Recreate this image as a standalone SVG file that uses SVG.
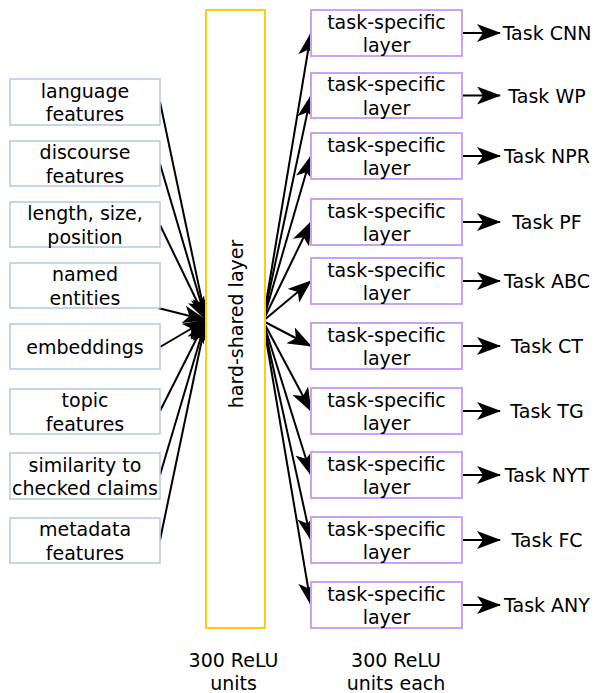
<svg xmlns="http://www.w3.org/2000/svg" width="596" height="693" viewBox="0 0 596 693">
<style>
text{font-family:"DejaVu Sans","Liberation Sans",sans-serif;font-size:19px;fill:#000;text-anchor:middle}
.in{fill:#fff;stroke:#B9CBE5;stroke-width:1.6}
.ts{fill:#fff;stroke:#C9A2F0;stroke-width:2}
.hs{fill:#fff;stroke:#FFCC11;stroke-width:2}
.c{stroke:#000;stroke-width:2;fill:none;marker-end:url(#ah)}
</style>
<defs>
<marker id="ah" markerUnits="userSpaceOnUse" markerWidth="24" markerHeight="18" viewBox="0 0 24 18" refX="23" refY="9" orient="auto">
<path d="M0,0 L24,9 L0,18 L6,9 Z" fill="#000"/>
</marker>
</defs>
<g id="connectors">
<line class="c" x1="160" y1="102" x2="206" y2="320"/>
<line class="c" x1="160" y1="164" x2="206" y2="320"/>
<line class="c" x1="160" y1="225" x2="206" y2="320"/>
<line class="c" x1="158" y1="308" x2="206" y2="320"/>
<line class="c" x1="160" y1="347" x2="206" y2="320"/>
<line class="c" x1="160" y1="411" x2="206" y2="320"/>
<line class="c" x1="160" y1="475" x2="206" y2="320"/>
<line class="c" x1="160" y1="540" x2="206" y2="320"/>
<line class="c" x1="263" y1="321" x2="311" y2="33"/>
<line class="c" x1="263" y1="321" x2="311" y2="95.5"/>
<line class="c" x1="263" y1="321" x2="311" y2="156"/>
<line class="c" x1="263" y1="321" x2="311" y2="222"/>
<line class="c" x1="263" y1="321" x2="311" y2="281"/>
<line class="c" x1="263" y1="321" x2="311" y2="346"/>
<line class="c" x1="263" y1="321" x2="311" y2="411"/>
<line class="c" x1="263" y1="321" x2="311" y2="475"/>
<line class="c" x1="263" y1="321" x2="311" y2="540"/>
<line class="c" x1="263" y1="321" x2="311" y2="605"/>
<line class="c" x1="462" y1="33" x2="500" y2="33"/>
<line class="c" x1="462" y1="95.5" x2="500" y2="95.5"/>
<line class="c" x1="462" y1="156" x2="500" y2="156"/>
<line class="c" x1="462" y1="222" x2="500" y2="222"/>
<line class="c" x1="462" y1="281" x2="500" y2="281"/>
<line class="c" x1="462" y1="346" x2="500" y2="346"/>
<line class="c" x1="462" y1="411" x2="500" y2="411"/>
<line class="c" x1="462" y1="475" x2="500" y2="475"/>
<line class="c" x1="462" y1="540" x2="500" y2="540"/>
<line class="c" x1="462" y1="605" x2="500" y2="605"/>
</g>
<g id="in1"><rect class="in" x="10" y="79" width="150" height="46"/><text x="85" y="97.5">language</text><text x="85" y="121">features</text></g>
<g id="in2"><rect class="in" x="10" y="141" width="150" height="45"/><text x="85" y="159">discourse</text><text x="85" y="182.5">features</text></g>
<g id="in3"><rect class="in" x="10" y="202" width="150" height="45"/><text x="85" y="220">length, size,</text><text x="85" y="243.5">position</text></g>
<g id="in4"><rect class="in" x="10" y="263" width="150" height="45"/><text x="85" y="281">named</text><text x="85" y="304.5">entities</text></g>
<g id="in5"><rect class="in" x="10" y="324" width="150" height="45"/><text x="85" y="353.5">embeddings</text></g>
<g id="in6"><rect class="in" x="10" y="389" width="150" height="45"/><text x="85" y="407">topic</text><text x="85" y="430.5">features</text></g>
<g id="in7"><rect class="in" x="10" y="453" width="150" height="46"/><text x="85" y="471.5">similarity to</text><text x="85" y="495">checked claims</text></g>
<g id="in8"><rect class="in" x="10" y="518" width="150" height="45"/><text x="85" y="536">metadata</text><text x="85" y="559.5">features</text></g>
<g id="shared"><rect class="hs" x="206" y="10" width="59" height="618"/><text transform="translate(243,324) rotate(-90)">hard-shared layer</text></g>
<g id="t1"><rect class="ts" x="311" y="10" width="151" height="46"/><text x="386.5" y="28.5">task-specific</text><text x="386.5" y="52">layer</text></g>
<g id="t2"><rect class="ts" x="311" y="73" width="151" height="45"/><text x="386.5" y="91">task-specific</text><text x="386.5" y="114.5">layer</text></g>
<g id="t3"><rect class="ts" x="311" y="133" width="151" height="46"/><text x="386.5" y="151.5">task-specific</text><text x="386.5" y="175">layer</text></g>
<g id="t4"><rect class="ts" x="311" y="199" width="151" height="46"/><text x="386.5" y="217.5">task-specific</text><text x="386.5" y="241">layer</text></g>
<g id="t5"><rect class="ts" x="311" y="258" width="151" height="46"/><text x="386.5" y="276.5">task-specific</text><text x="386.5" y="300">layer</text></g>
<g id="t6"><rect class="ts" x="311" y="323" width="151" height="46"/><text x="386.5" y="341.5">task-specific</text><text x="386.5" y="365">layer</text></g>
<g id="t7"><rect class="ts" x="311" y="388" width="151" height="46"/><text x="386.5" y="406.5">task-specific</text><text x="386.5" y="430">layer</text></g>
<g id="t8"><rect class="ts" x="311" y="452" width="151" height="46"/><text x="386.5" y="470.5">task-specific</text><text x="386.5" y="494">layer</text></g>
<g id="t9"><rect class="ts" x="311" y="517" width="151" height="46"/><text x="386.5" y="535.5">task-specific</text><text x="386.5" y="559">layer</text></g>
<g id="t10"><rect class="ts" x="311" y="582" width="151" height="46"/><text x="386.5" y="600.5">task-specific</text><text x="386.5" y="624">layer</text></g>
<g id="labels">
<text x="547" y="40">Task CNN</text>
<text x="547" y="102.5">Task WP</text>
<text x="547" y="163">Task NPR</text>
<text x="547" y="229">Task PF</text>
<text x="547" y="288">Task ABC</text>
<text x="547" y="353">Task CT</text>
<text x="547" y="418">Task TG</text>
<text x="547" y="482">Task NYT</text>
<text x="547" y="547">Task FC</text>
<text x="547" y="612">Task ANY</text>
<text x="233.5" y="667">300 ReLU</text>
<text x="233.5" y="690">units</text>
<text x="396" y="667">300 ReLU</text>
<text x="396" y="690">units each</text>
</g>
</svg>
